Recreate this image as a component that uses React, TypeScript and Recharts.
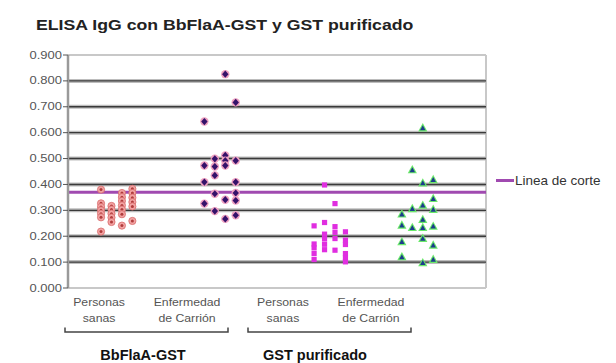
import React from "react";
import { ScatterChart, Scatter, XAxis, YAxis, ReferenceLine } from "recharts";

const yTicks = [0, 0.1, 0.2, 0.3, 0.4, 0.5, 0.6, 0.7, 0.8, 0.9];
const gridValues = [0.1, 0.2, 0.3, 0.4, 0.5, 0.6, 0.7, 0.8];
const cutoff = 0.37;
const cutoffLabel = "Linea de corte";

const subgroupLabels = [
  ["Personas", "sanas"],
  ["Enfermedad", "de Carrión"],
  ["Personas", "sanas"],
  ["Enfermedad", "de Carrión"],
];
const subgroupTickX = [2.97, 11.39, 20.57, 28.99];
const groupNames = ["BbFlaA-GST", "GST purificado"];

// dot swarms: one inner array per column, values top to bottom
const sanosFlaA = [
  [0.38, 0.327, 0.313, 0.3, 0.287, 0.273, 0.218],
  [0.317, 0.303, 0.287, 0.272, 0.255],
  [0.367, 0.351, 0.336, 0.319, 0.303, 0.285, 0.241],
  [0.383, 0.367, 0.349, 0.332, 0.315, 0.259],
];
const carrionFlaA = [
  [0.643, 0.473, 0.409, 0.326],
  [0.499, 0.469, 0.435, 0.364, 0.297],
  [0.826, 0.512, 0.492, 0.473, 0.341, 0.267],
  [0.717, 0.492, 0.409, 0.367, 0.338, 0.281],
];
const sanosGST = [
  [0.24, 0.17, 0.155, 0.133, 0.11],
  [0.398, 0.253, 0.208, 0.19, 0.169, 0.148],
  [0.326, 0.237, 0.215, 0.191, 0.146],
  [0.217, 0.185, 0.168, 0.133, 0.116, 0.101],
];
const carrionGST = [
  [0.285, 0.242, 0.178, 0.12],
  [0.456, 0.306, 0.233],
  [0.618, 0.405, 0.319, 0.264, 0.233, 0.191, 0.097],
  [0.418, 0.345, 0.303, 0.238, 0.165, 0.11],
];
const swarmStart = [3.16, 13.05, 23.55, 31.95];

const toPoints = (cols: number[][], start: number) =>
  cols.flatMap((col, c) => col.map((y) => ({ x: start + c, y })));

const FONT = "'Liberation Sans', Arial, sans-serif";

const CircleDot = (p: any) => (
  <g>
    <circle cx={p.cx} cy={p.cy} r={3.6} fill="#f2a3a3" stroke="#d86c6c" strokeWidth={0.8} />
    <circle cx={p.cx} cy={p.cy} r={1.5} fill="#b03c3c" />
  </g>
);

const DiamondDot = (p: any) => (
  <g>
    <circle cx={p.cx} cy={p.cy} r={4.2} fill="#eea0c0" />
    <polygon
      points={`${p.cx},${p.cy - 3.6} ${p.cx + 3.2},${p.cy} ${p.cx},${p.cy + 3.6} ${p.cx - 3.2},${p.cy}`}
      fill="#35126a"
    />
  </g>
);

const SquareDot = (p: any) => (
  <rect x={p.cx - 2.6} y={p.cy - 2.6} width={5.2} height={5.2} fill="#e02ee0" />
);

const TriangleDot = (p: any) => (
  <g>
    <polygon
      points={`${p.cx},${p.cy - 5} ${p.cx + 4.6},${p.cy + 3.4} ${p.cx - 4.6},${p.cy + 3.4}`}
      fill="#6ae86a"
    />
    <polygon
      points={`${p.cx},${p.cy - 2.8} ${p.cx + 2.7},${p.cy + 2.2} ${p.cx - 2.7},${p.cy + 2.2}`}
      fill="#1c3c8c"
    />
  </g>
);

const YTick = ({ x, y, payload }: any) => (
  <text
    transform={`translate(${x},${y}) scale(1.3,1)`}
    textAnchor="end"
    dy={3.5}
    fontSize={10}
    fill="#555"
    fontFamily={FONT}
  >
    {Number(payload.value).toFixed(3)}
  </text>
);

const XTick = ({ x, y, payload }: any) => {
  const i = subgroupTickX.indexOf(payload.value);
  const lines = subgroupLabels[i] || [];
  return (
    <g transform={`translate(${x},${y}) scale(1.17,1)`}>
      {lines.map((t, k) => (
        <text key={k} x={0} y={18 + k * 15.6} textAnchor="middle" fontSize={10.5} fill="#555" fontFamily={FONT}>
          {t}
        </text>
      ))}
    </g>
  );
};

export default function App() {
  return (
    <div style={{ position: "absolute", left: 0, top: 0, width: 616, height: 363, background: "#fff" }}>
      <ScatterChart width={616} height={363} margin={{ top: 55, right: 130, bottom: 0, left: 8 }}>
        <XAxis
          type="number"
          dataKey="x"
          domain={[0, 40]}
          ticks={subgroupTickX}
          tick={<XTick />}
          tickLine={false}
          tickSize={0}
          tickMargin={0}
          axisLine={{ stroke: "#c8c8c8", strokeWidth: 2 }}
          height={75}
          interval={0}
        />
        <YAxis
          type="number"
          dataKey="y"
          domain={[0, 0.9]}
          ticks={yTicks}
          width={60}
          tick={<YTick />}
          tickSize={5}
          tickMargin={1}
          tickLine={{ stroke: "#555" }}
          axisLine={{ stroke: "#9a9a9a", strokeWidth: 2.5 }}
          interval={0}
        />
        <ReferenceLine y={0.9} stroke="#c8c8c8" strokeWidth={2} zIndex={-50} />
        <ReferenceLine x={40} stroke="#c8c8c8" strokeWidth={2} zIndex={-50} />
        {gridValues.map((v) => (
          <ReferenceLine key={`h${v}`} y={v} stroke="#bdbdbd" strokeWidth={4} zIndex={-50} />
        ))}
        {gridValues.map((v) => (
          <ReferenceLine key={`c${v}`} y={v} stroke="#3a3a3a" strokeWidth={1.4} zIndex={-40} />
        ))}
        <ReferenceLine y={cutoff} stroke="#a04ab0" strokeWidth={3} zIndex={-30} />
        <Scatter data={toPoints(sanosFlaA, swarmStart[0])} shape={CircleDot} isAnimationActive={false} zIndex={700} />
        <Scatter data={toPoints(carrionFlaA, swarmStart[1])} shape={DiamondDot} isAnimationActive={false} zIndex={700} />
        <Scatter data={toPoints(sanosGST, swarmStart[2])} shape={SquareDot} isAnimationActive={false} zIndex={700} />
        <Scatter data={toPoints(carrionGST, swarmStart[3])} shape={TriangleDot} isAnimationActive={false} zIndex={700} />
      </ScatterChart>
      <svg
        width={616}
        height={363}
        style={{ position: "absolute", left: 0, top: 0, pointerEvents: "none" }}
        fontFamily={FONT}
      >
        <text
          transform="translate(36,29.5) scale(1.22,1)"
          fontSize={14.5}
          fontWeight="bold"
          fill="#222"
        >
          ELISA IgG con BbFlaA-GST y GST purificado
        </text>
        <line x1={496} y1={180.5} x2={514} y2={180.5} stroke="#a04ab0" strokeWidth={3} />
        <text x={515} y={185} fontSize={13.5} fill="#333">
          {cutoffLabel}
        </text>
        <path d="M65,327.5 V332 H228 V327.5" fill="none" stroke="#444" strokeWidth={1.5} />
        <path d="M248,327.5 V332 H411 V327.5" fill="none" stroke="#444" strokeWidth={1.5} />
        <text x={143} y={360} textAnchor="middle" fontSize={14.5} fontWeight="bold" fill="#111">
          {groupNames[0]}
        </text>
        <text x={315} y={360} textAnchor="middle" fontSize={14.5} fontWeight="bold" fill="#111">
          {groupNames[1]}
        </text>
      </svg>
    </div>
  );
}
